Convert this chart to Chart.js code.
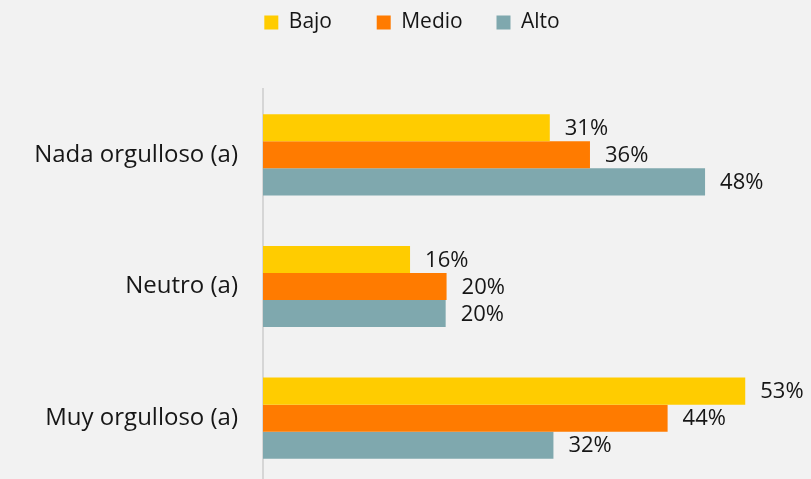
<!DOCTYPE html>
<html>
<head>
<meta charset="utf-8">
<script src="https://cdn.jsdelivr.net/npm/chart.js@4"></script>
<style>
  html, body { margin: 0; padding: 0; background: #f2f2f2; overflow: hidden; }
  /* a few px taller than the window: the last group runs off the bottom like the original */
  #wrap { width: 811px; height: 484px; position: relative; }
</style>
</head>
<body>
<div id="wrap"><canvas id="orgulloChart"></canvas></div>
<script>
const categorias = ["Nada orgulloso (a)", "Neutro (a)", "Muy orgulloso (a)"];
const seriesNombres = ["Bajo", "Medio", "Alto"];
// bar lengths; the labels show them rounded
const bajo = [31.4, 16.1, 52.8];
const medio = [35.8, 20.1, 44.3];
const alto = [48.4, 20.0, 31.8];
const colores = ["#FFCC00", "#FF7B00", "#7FA8AE"];

const FONT = "'Open Sans', 'Noto Sans', sans-serif";
const TXT = "#161616";
// trailing spaces so the legend entries sit at even steps like the original
const legendPad = ["      ", "    ", ""];

// legend takes the whole band above the plot
const legendHeight = {
    id: "legendHeight",
    beforeInit(chart) {
        const fit = chart.legend.fit;
        chart.legend.fit = function () {
            fit.bind(chart.legend)();
            this.height = 89;
        };
    },
};

// percent labels right of each bar
const valueLabels = {
    id: "valueLabels",
    afterDatasetsDraw(chart) {
        const ctx = chart.ctx;
        ctx.save();
        ctx.font = "22px " + FONT;
        ctx.fillStyle = TXT;
        ctx.textAlign = "left";
        ctx.textBaseline = "middle";
        chart.data.datasets.forEach((ds, i) => {
            const meta = chart.getDatasetMeta(i);
            meta.data.forEach((bar, j) => {
                ctx.fillText(Math.round(ds.data[j]) + "%", bar.x + 15, bar.y + 1);
            });
        });
        ctx.restore();
    },
};

const seriesData = [bajo, medio, alto];

new Chart(document.getElementById("orgulloChart"), {
    type: "bar",
    data: {
        labels: categorias,
        datasets: seriesNombres.map((name, i) => ({
            label: name,
            data: seriesData[i],
            backgroundColor: colores[i],
            borderWidth: 0,
            categoryPercentage: 0.616,
            barPercentage: 1,
        })),
    },
    options: {
        indexAxis: "y",
        responsive: true,
        maintainAspectRatio: false,
        animation: false,
        layout: { padding: { left: 13, right: 0, top: 0, bottom: 0 } },
        plugins: {
            legend: {
                position: "top",
                labels: {
                    boxWidth: 14,
                    boxHeight: 14,
                    padding: 12,
                    color: TXT,
                    font: { family: FONT, size: 21 },
                    generateLabels(chart) {
                        const items = Chart.defaults.plugins.legend.labels.generateLabels(chart);
                        items.forEach((it, i) => { it.text = it.text + legendPad[i]; });
                        return items;
                    },
                },
            },
            tooltip: { enabled: false },
        },
        scales: {
            x: {
                display: false,
                min: 0,
                max: 60,
            },
            y: {
                afterFit(scale) {
                    scale.width = 250;
                    scale.paddingTop = 0;
                    scale.paddingBottom = 0;
                },
                grid: { display: false, drawTicks: false },
                border: { display: true, color: "#d6d6d6", width: 2 },
                ticks: {
                    padding: 25,
                    color: TXT,
                    font: { family: FONT, size: 24 },
                },
            },
        },
    },
    plugins: [legendHeight, valueLabels],
});
</script>
</body>
</html>
